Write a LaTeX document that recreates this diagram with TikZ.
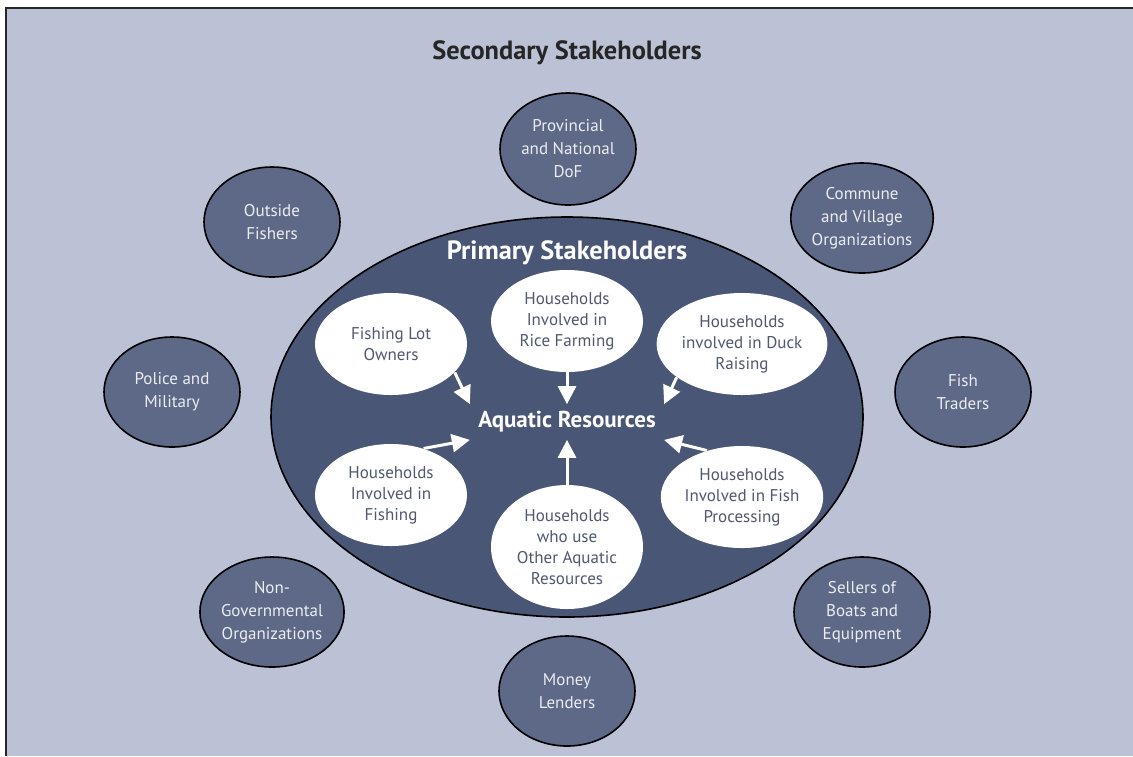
\documentclass[tikz,border=0pt]{standalone}
\usepackage{fontspec}
\setmainfont{PT Sans}
\usepackage{xcolor}
\usetikzlibrary{shapes.geometric,arrows.meta}
\definecolor{bgcol}{HTML}{BCC2D6}
\definecolor{bigcol}{HTML}{4A5675}
\definecolor{outcol}{HTML}{5E6988}
\definecolor{txtcol}{HTML}{505870}
\begin{document}
\begin{tikzpicture}[x=0.5pt,y=-0.5pt,
  outer/.style={ellipse,draw=black,line width=0.8pt,fill=outcol,text=white!88!outcol,minimum width=68pt,minimum height=55pt,inner sep=0pt,align=center,font=\fontsize{8.5}{11.5}\selectfont},
  inner/.style={ellipse,fill=white,text=txtcol,minimum width=76pt,minimum height=51pt,inner sep=0pt,align=center,font=\fontsize{8.5}{10.5}\selectfont},
  arr/.style={white,line width=1.5pt,-{Triangle[length=9pt,width=9pt]}}]
\useasboundingbox (0,0) rectangle (1133,756);
\fill[bgcol] (6,8) rectangle (1133,756);
\draw[line width=1.2pt,black!85] (6,756)--(6,8)--(1133,8);
\node[font=\fontsize{13.2}{15}\selectfont\bfseries,text=black!85] (sec) at (567,53) {Secondary Stakeholders};
% outer ring
\node[outer,minimum height=56pt] (dof) at (568,149) {Provincial\\and National\\DoF};
\node[outer] (outf) at (272,222) {Outside\\Fishers};
\node[outer] (comm) at (862,218) {Commune\\and Village\\Organizations};
\node[outer] (pol) at (172,392) {Police and\\Military};
\node[outer] (trad) at (963,392) {Fish\\Traders};
\node[outer] (ngo) at (272,612) {Non-\\Governmental\\Organizations};
\node[outer] (sell) at (862,612) {Sellers of\\Boats and\\Equipment};
\node[outer] (lend) at (567,691) {Money\\Lenders};
% primary
\node[ellipse,draw=black,line width=0.8pt,fill=bigcol,minimum width=296pt,minimum height=200pt] (prim) at (567,417) {};
\node[text=white,font=\fontsize{13.2}{15}\selectfont\bfseries] (ps) at (567,253) {Primary Stakeholders};
\node[text=white,font=\fontsize{11.5}{13}\selectfont\bfseries,inner xsep=4pt,inner ysep=3.5pt] (aq) at (567,422) {Aquatic Resources};
\node[inner] (flo) at (391,344) {Fishing Lot\\Owners};
\node[inner] (rice) at (567,321) {Households\\Involved in\\Rice Farming};
\node[inner] (duck) at (742,344) {Households\\involved in Duck\\Raising};
\node[inner] (fish) at (391,495) {Households\\Involved in\\Fishing};
\node[inner] (proc) at (742,497) {Households\\Involved in Fish\\Processing};
\node[inner,minimum height=62pt] (oth) at (567,547) {Households\\who use\\Other Aquatic\\Resources};
\draw[arr] (flo.-24) -- (aq.north west);
\draw[arr] (rice.south) -- (aq.north);
\draw[arr] (duck.-153) -- (aq.north east);
\draw[arr] (fish.55) -- (aq.south west);
\draw[arr] (proc.127) -- (aq.south east);
\draw[arr] (oth.north) -- (aq.south);
\end{tikzpicture}
\end{document}
